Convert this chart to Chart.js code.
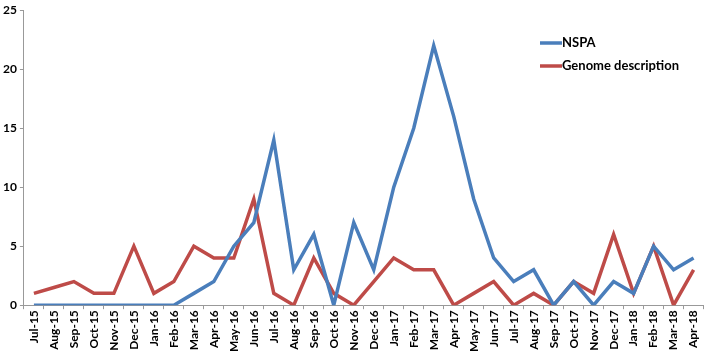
<!DOCTYPE html>
<html lang="en">
<head>
    <meta charset="UTF-8">
    <title>NSPA vs Genome description</title>
    <script src="https://cdn.jsdelivr.net/npm/chart.js"></script>
    <style>
        html, body { margin: 0; padding: 0; background: #fff; }
        #wrap { width: 709px; height: 353px; }
    </style>
</head>
<body>
    <div id="wrap"><canvas id="myChart"></canvas></div>

    <script>
        const months = ['Jul-15', 'Aug-15', 'Sep-15', 'Oct-15', 'Nov-15', 'Dec-15', 'Jan-16', 'Feb-16',
            'Mar-16', 'Apr-16', 'May-16', 'Jun-16', 'Jul-16', 'Aug-16', 'Sep-16', 'Oct-16', 'Nov-16',
            'Dec-16', 'Jan-17', 'Feb-17', 'Mar-17', 'Apr-17', 'May-17', 'Jun-17', 'Jul-17', 'Aug-17',
            'Sep-17', 'Oct-17', 'Nov-17', 'Dec-17', 'Jan-18', 'Feb-18', 'Mar-18', 'Apr-18'];
        const nspa = [0, 0, 0, 0, 0, 0, 0, 0, 1, 2, 5, 7, 14, 3, 6, 0, 7, 3, 10, 15, 22, 16, 9, 4, 2, 3,
            0, 2, 0, 2, 1, 5, 3, 4];
        const genome = [1, 1.5, 2, 1, 1, 5, 1, 2, 5, 4, 4, 9, 1, 0, 4, 1, 0, 2, 4, 3, 3, 0, 1, 2, 0, 1,
            0, 2, 1, 6, 1, 5, 0, 3];
        const yTicks = [0, 5, 10, 15, 20, 25];

        const labelFont = { family: 'Lato', size: 12, weight: 'bold' };

        // legend drawn inside the plot, like the original
        const innerLegend = {
            id: 'innerLegend',
            afterDraw(chart) {
                const {ctx} = chart;
                ctx.save();
                ctx.font = 'bold 13px Lato';
                ctx.textBaseline = 'middle';
                chart.data.datasets.forEach((ds, i) => {
                    const y = 43 + i * 23;
                    ctx.strokeStyle = ds.borderColor;
                    ctx.lineWidth = 3.5;
                    ctx.beginPath();
                    ctx.moveTo(540, y);
                    ctx.lineTo(562, y);
                    ctx.stroke();
                    ctx.fillStyle = '#000';
                    ctx.fillText(ds.label, 562, y);
                });
                ctx.restore();
            }
        };

        new Chart(document.getElementById('myChart'), {
            type: 'line',
            data: {
                labels: months,
                datasets: [
                    { label: 'NSPA', data: nspa, borderColor: '#4A7EBB', borderWidth: 3.5,
                      pointRadius: 0, tension: 0, fill: false },
                    { label: 'Genome description', data: genome, borderColor: '#BE4B48', borderWidth: 3.5,
                      pointRadius: 0, tension: 0, fill: false }
                ]
            },
            options: {
                responsive: true,
                maintainAspectRatio: false,
                animation: false,
                layout: { padding: { top: 2, right: 1, left: 0, bottom: 0 } },
                plugins: {
                    legend: { display: false },
                    tooltip: { enabled: false }
                },
                scales: {
                    x: {
                        offset: true,
                        grid: { display: true, drawOnChartArea: false, offset: true, tickLength: 4, color: '#999' },
                        border: { color: '#999' },
                        ticks: { color: '#000', font: labelFont, minRotation: 90, maxRotation: 90,
                                 autoSkip: false, padding: 1 }
                    },
                    y: {
                        min: 0,
                        max: 25,
                        afterBuildTicks(axis) { axis.ticks = yTicks.map(v => ({ value: v })); },
                        grid: { display: true, drawOnChartArea: false, tickLength: 4, color: '#999' },
                        border: { color: '#999' },
                        ticks: { color: '#000', font: labelFont, padding: 3 }
                    }
                }
            },
            plugins: [innerLegend]
        });
    </script>
</body>
</html>
